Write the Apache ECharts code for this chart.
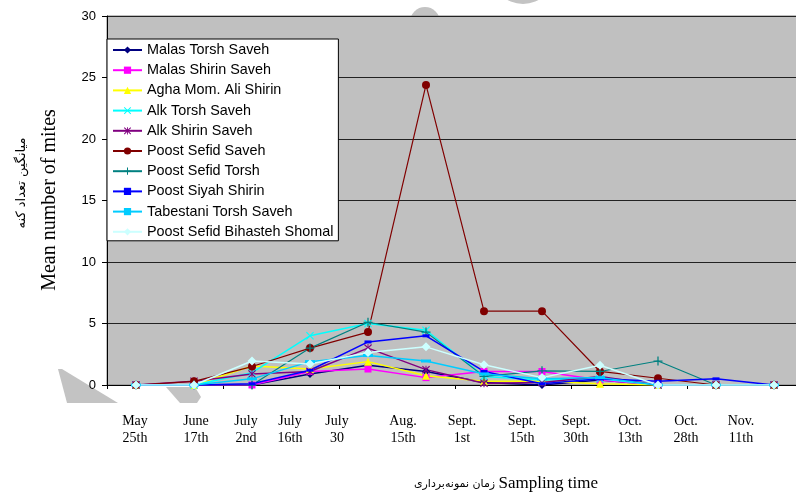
<!DOCTYPE html>
<html style="height: 100%">
<head>
<meta charset="utf-8">
<script src="https://cdn.jsdelivr.net/npm/echarts@6/dist/echarts.min.js"></script>
</head>
<body style="height: 100%; margin: 0; background: #fff">
<div id="container" style="width: 796px; height: 497px;"></div>
<script type="text/javascript">
// sampling dates (category axis) and the text drawn under the axis
var categories = ['May 25th', 'June 17th', 'July 2nd', 'July 16th', 'July 30', 'Aug. 15th',
                  'Sept. 1st', 'Sept. 15th', 'Sept. 30th', 'Oct. 13th', 'Oct. 28th', 'Nov. 11th'];
var dateLabels = ['May\n25th', 'June\n17th', 'July\n2nd', 'July\n16th', 'July\n30', 'Aug.\n15th',
                  'Sept.\n1st', 'Sept.\n15th', 'Sept.\n30th', 'Oct.\n13th', 'Oct.\n28th', 'Nov.\n11th'];
var yTicks = [0, 5, 10, 15, 20, 25, 30];

// mean number of mites per variety
var malasTorshSaveh      = [0, 0,   0,    0.9, 1.6, 1.1,  0.2, 0,   0.4, 0,    0,   0];
var malasShirinSaveh     = [0, 0,   0,    1.1, 1.3, 0.6,  1.1, 1.1, 0.4, 0,    0,   0];
var aghaMomAliShirin     = [0, 0,   1.55, 1.3, 1.9, 0.75, 0.3, 0.3, 0.1, 0,    0,   0];
var alkTorshSaveh        = [0, 0,   1.0,  4.0, 5.0, 4.45, 0.7, 0.4, 0.5, 0,    0,   0];
var alkShirinSaveh       = [0, 0.3, 0.9,  1.1, 3.0, 1.25, 0.15,0.2, 0.7, 0,    0,   0];
var poostSefidSaveh      = [0, 0.3, 1.5,  3.0, 4.3, 24.4, 6.0, 6.0, 1.1, 0.55, 0,   0];
var poostSefidTorsh      = [0, 0,   0,    3.0, 5.1, 4.3,  0.7, 1.15,1.1, 1.95, 0,   0];
var poostSiyahShirin     = [0, 0,   0.1,  1.2, 3.5, 4.0,  1.1, 0.1, 0.5, 0.3,  0.5, 0];
var tabestaniTorshSaveh  = [0, 0,   0.5,  1.9, 2.4, 1.95, 0.9, 0.5, 0.6, 0,    0,   0];
var poostSefidBihasteh   = [0, 0,   1.95, 1.7, 2.65,3.1,  1.65,0.6, 1.6, 0,    0,   0];

// where the date texts sit under the axis (they are not centred on the points)
var dateLabelX = [135, 196, 246, 290, 337, 403, 462, 522, 576, 630, 686, 741];

var xMark = 'path://M0,1L1,0L5,4L9,0L10,1L6,5L10,9L9,10L5,6L1,10L0,9L4,5Z';
var starMark = 'path://M0,1L1,0L5,4L9,0L10,1L6,5L10,9L9,10L5,6L1,10L0,9L4,5Z M4.4,0H5.6V10H4.4Z';
var plusMark = 'path://M4.3,0H5.7V4.3H10V5.7H5.7V10H4.3V5.7H0V4.3H4.3Z';

function line(name, color, data, symbol, size, width) {
    return {
        name: name,
        type: 'line',
        data: data,
        symbol: symbol,
        symbolSize: size,
        showAllSymbol: true,
        lineStyle: { color: color, width: width || 1.5 },
        itemStyle: { color: color, borderWidth: 0 },
        emphasis: { disabled: true },
        animation: false
    };
}

var chart = echarts.init(document.getElementById('container'));

var graphics = [
    // grey blotches of the scanned page
    { type: 'circle', z: -10, shape: { cx: 425, cy: 22, r: 15 }, style: { fill: '#c3c3c3' } },
    { type: 'circle', z: -10, shape: { cx: 523, cy: -28, r: 32 }, style: { fill: '#c3c3c3' } },
    { type: 'polygon', z: -10, shape: { points: [[58, 369], [62, 369], [118, 403], [67, 403]] }, style: { fill: '#c3c3c3' } },
    { type: 'polygon', z: -10, shape: { points: [[166, 387], [195, 387], [201, 397], [197, 403], [180, 403]] }, style: { fill: '#c3c3c3' } },
    {
        type: 'text', x: 50, y: 200, rotation: Math.PI / 2,
        style: { text: 'Mean number of mites', font: '20px "Liberation Serif", "Times New Roman", serif',
                 fill: '#000', align: 'center', verticalAlign: 'middle' }
    },
    {
        type: 'text', x: 22, y: 183, rotation: Math.PI / 2,
        style: { text: 'میانگین تعداد کنه', font: '13px "DejaVu Sans", sans-serif',
                 fill: '#000', align: 'center', verticalAlign: 'middle' }
    },
    {
        type: 'text', x: 506, y: 484,
        style: {
            text: '{fa|زمان نمونه‌برداری} {en|Sampling time}',
            align: 'center', verticalAlign: 'middle', fill: '#000',
            rich: {
                fa: { font: '11px "DejaVu Sans", sans-serif', fill: '#000' },
                en: { font: '17px "Liberation Serif", "Times New Roman", serif', fill: '#000' }
            }
        }
    }
];
for (var i = 0; i < dateLabels.length; i++) {
    graphics.push({
        type: 'text', x: dateLabelX[i], y: 413,
        style: { text: dateLabels[i], font: '14px "Liberation Serif", "Times New Roman", serif',
                 lineHeight: 17, fill: '#000', align: 'center', verticalAlign: 'top' }
    });
}

var option = {
    animation: false,
    backgroundColor: '#fff',
    grid: {
        show: true,
        left: 107, top: 16, width: 696, height: 369,
        outerBoundsMode: 'none',
        backgroundColor: '#c0c0c0',
        borderColor: '#808080',
        borderWidth: 1
    },
    legend: {
        orient: 'vertical',
        left: 107, top: 39,
        backgroundColor: '#fff',
        borderColor: '#000',
        borderWidth: 1,
        padding: [4, 5, 2, 5],
        itemWidth: 29, itemHeight: 9, itemGap: 6.2, itemTextGap: 3,
        textStyle: { fontFamily: '"Liberation Sans", Arial, sans-serif', fontSize: 14.4, color: '#000' },
        selectedMode: false
    },
    xAxis: {
        type: 'category',
        data: categories,
        boundaryGap: true,
        axisLine: { lineStyle: { color: '#000', width: 1 } },
        axisTick: { show: true, length: 4, inside: false, lineStyle: { color: '#000' } },
        axisLabel: { show: false },
        splitLine: { show: false }
    },
    yAxis: {
        type: 'value',
        min: yTicks[0], max: yTicks[yTicks.length - 1], interval: 5,
        axisLine: { show: true, lineStyle: { color: '#000', width: 1 } },
        axisTick: { show: true, length: 5, lineStyle: { color: '#000' } },
        axisLabel: { margin: 11, color: '#000', fontSize: 13, fontFamily: '"Liberation Sans", Arial, sans-serif' },
        splitLine: { show: true, lineStyle: { color: '#222', width: 1 } }
    },
    graphic: graphics,
    series: [
        line('Malas Torsh Saveh', '#000080', malasTorshSaveh, 'diamond', 8),
        line('Malas Shirin Saveh', '#ff00ff', malasShirinSaveh, 'rect', 7),
        line('Agha Mom. Ali Shirin', '#ffff00', aghaMomAliShirin, 'triangle', 8),
        line('Alk Torsh Saveh', '#00ffff', alkTorshSaveh, xMark, 8),
        line('Alk Shirin Saveh', '#800080', alkShirinSaveh, starMark, 8),
        line('Poost Sefid Saveh', '#800000', poostSefidSaveh, 'circle', 8, 1.2),
        line('Poost Sefid Torsh', '#008080', poostSefidTorsh, plusMark, 9, 1.2),
        line('Poost Siyah Shirin', '#0000ff', poostSiyahShirin, 'rect', [7, 3]),
        line('Tabestani Torsh Saveh', '#00ccff', tabestaniTorshSaveh, 'rect', [10, 3]),
        line('Poost Sefid Bihasteh Shomal', '#ccffff', poostSefidBihasteh, 'diamond', 9)
    ]
};
chart.setOption(option);
</script>
</body>
</html>
